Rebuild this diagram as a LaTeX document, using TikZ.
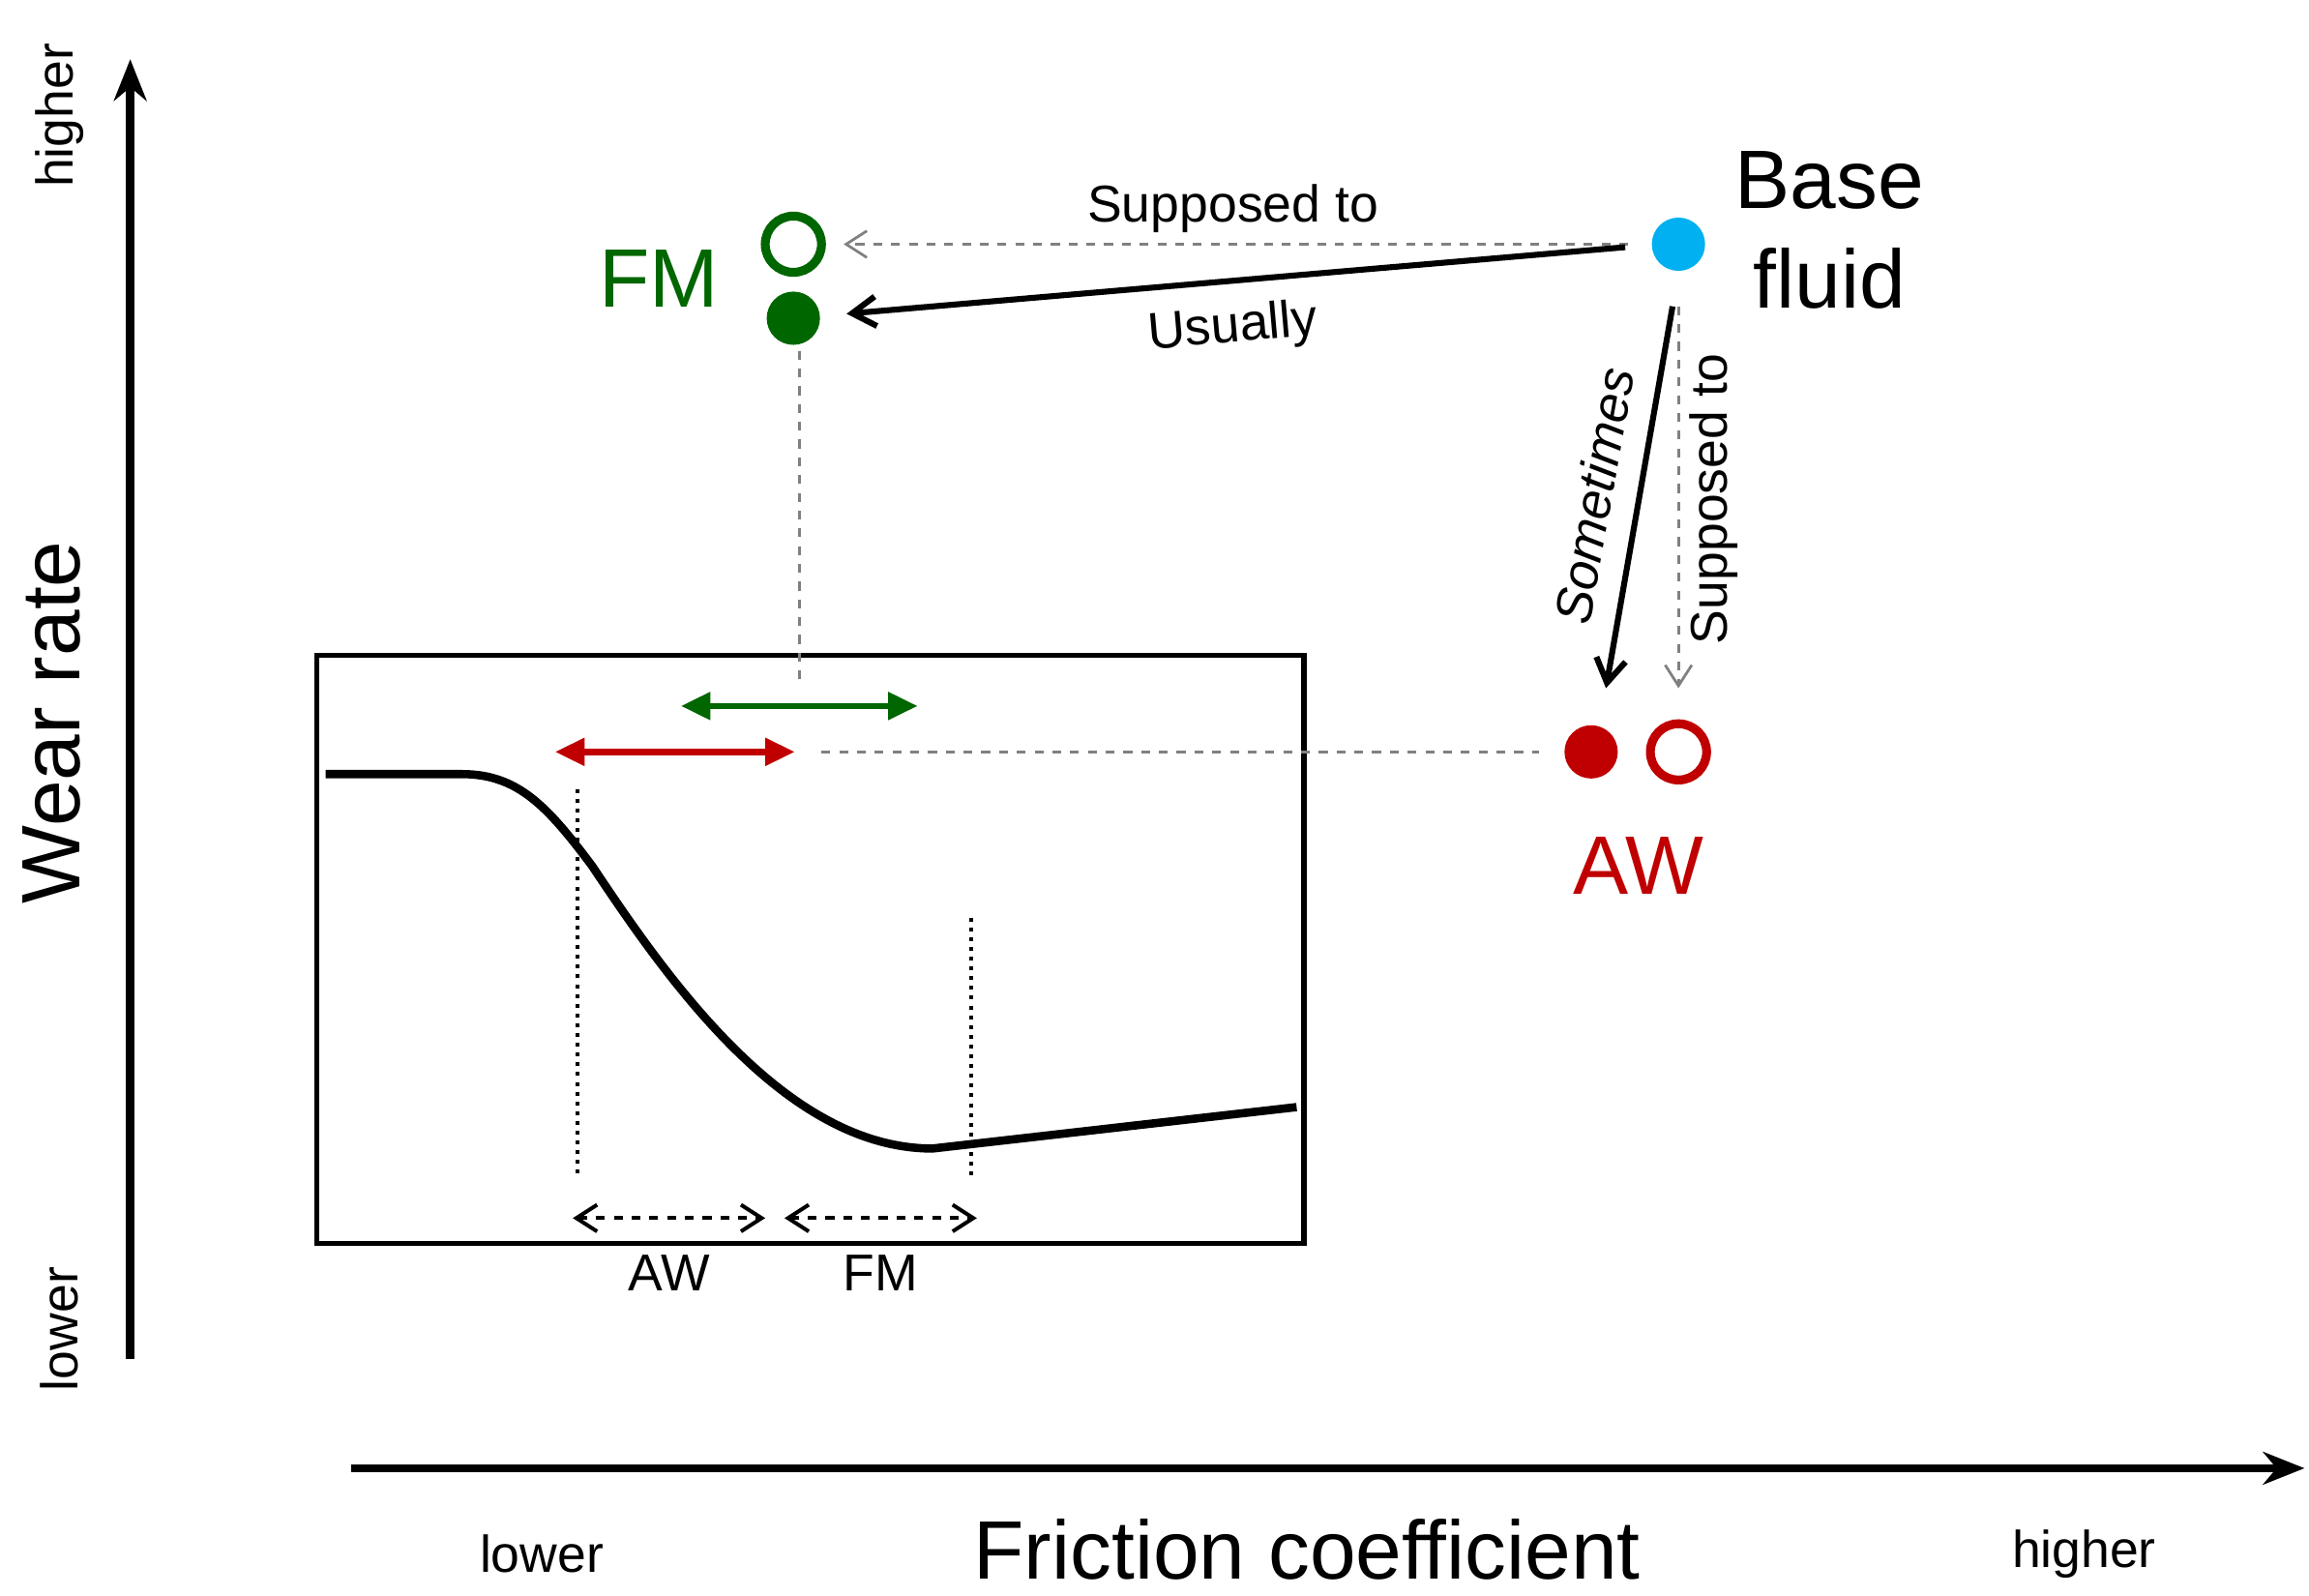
\documentclass[tikz,border=0pt]{standalone}
\usepackage{fontspec}
\setmainfont{Liberation Sans}
\usetikzlibrary{arrows.meta}
\definecolor{fmg}{HTML}{006600}
\definecolor{awr}{HTML}{C00000}
\definecolor{bfb}{HTML}{00B0F0}
\begin{document}
\begin{tikzpicture}[x=0.5pt,y=-0.5pt,
  ax/.style={line width=2.8pt,-{Stealth[length=14pt,width=11pt]}},
  big/.style={font=\fontsize{28}{31}\selectfont},
  med/.style={font=\fontsize{17.5}{20}\selectfont},
  gd/.style={gray,dashed,line width=0.9pt},
  ga/.style={gd,-{Straight Barb[length=7pt,width=9pt]}},
  ba/.style={black,line width=2pt,-{Straight Barb[length=8pt,width=10pt]}},
  col/.style={line width=2.2pt,{Triangle[length=10pt,width=9pt]}-{Triangle[length=10pt,width=9pt]}}]
\useasboundingbox (0,0) rectangle (1560,1078);
% axes
\coordinate (y0) at (88,918); \coordinate (y1) at (88,40);
\coordinate (x0) at (237,992); \coordinate (x1) at (1557,992);
\draw[ax] (y0) -- (y1);
\draw[ax] (x0) -- (x1);
\node[med,rotate=90] (yh) at (40,78) {higher};
\node[med,rotate=90] (yl) at (40,898) {lower};
\node[big,rotate=90] (yw) at (35,488) {Wear rate};
\node[med] (xl) at (366,1050) {lower};
\node[big] (xf) at (883,1047) {Friction coefficient};
\node[med] (xh) at (1408,1050) {higher};
% box
\node[draw,line width=1.7pt,minimum width=333.5pt,minimum height=198.5pt,inner sep=0] (box) at (547.5,641.5) {};
\draw[line width=2.8pt] (220,523) -- (312,523) .. controls (350,523) and (370,545) .. (400,585)
  .. controls (450,660) and (530,776) .. (630,776) -- (876,748);
\draw[dotted,line width=1.3pt] (390,533) -- (390,795);
\draw[dotted,line width=1.3pt] (656,620) -- (656,795);
\coordinate (a1) at (387,823); \coordinate (a2) at (517,823);
\coordinate (f1) at (530,823); \coordinate (f2) at (660,823);
\draw[dashed,line width=1.3pt,{Straight Barb[length=7pt,width=9pt]}-{Straight Barb[length=7pt,width=9pt]}] (a1) -- (a2);
\draw[dashed,line width=1.3pt,{Straight Barb[length=7pt,width=9pt]}-{Straight Barb[length=7pt,width=9pt]}] (f1) -- (f2);
\node[med] (law) at (452,860) {AW};
\node[med] (lfm) at (595,860) {FM};
\coordinate (r1) at (375,508); \coordinate (r2) at (537,508);
\coordinate (g1) at (460,477); \coordinate (g2) at (620,477);
\draw[col,awr] (r1) -- (r2);
\draw[col,fmg] (g1) -- (g2);
% FM
\node[circle,draw=fmg,line width=3pt,minimum size=19pt,inner sep=0] (fmo) at (536,165) {};
\node[circle,fill=fmg,minimum size=18pt,inner sep=0] (fmf) at (536,215) {};
\node[big,text=fmg] (fmt) at (445,188) {FM};
% base fluid
\node[circle,fill=bfb,minimum size=18pt,inner sep=0] (bf) at (1134,165) {};
\node[big] (bt1) at (1236,122) {Base};
\node[big] (bt2) at (1236,188) {fluid};
% AW
\node[circle,fill=awr,minimum size=18pt,inner sep=0] (awf) at (1075,508) {};
\node[circle,draw=awr,line width=3pt,minimum size=19pt,inner sep=0] (awo) at (1134,508) {};
\node[big,text=awr] (awt) at (1107,585) {AW};
% guide lines
\coordinate (v1) at (540,237); \coordinate (v2) at (540,462);
\draw[gd] (v1) -- (v2);
\coordinate (h1) at (555,508); \coordinate (h2) at (1040,508);
\draw[gd] (h1) -- (h2);
% arrows
\coordinate (s1) at (1100,165); \coordinate (s2) at (570,165);
\draw[ga] (s1) -- (s2);
\node[med] (ls) at (833,141) {Supposed to};
\coordinate (u1) at (1098,167); \coordinate (u2) at (572,212);
\draw[ba] (u1) -- (u2);
\node[med,rotate=5] (lu) at (833,222) {Usually};
\coordinate (m1) at (1130,207); \coordinate (m2) at (1085,465);
\draw[ba] (m1) -- (m2);
\node[med,font=\fontsize{17.5}{20}\selectfont\itshape,rotate=80,inner sep=1pt] (lm) at (1077,335) {Sometimes};
\coordinate (d1) at (1134,207); \coordinate (d2) at (1134,465);
\draw[ga] (d1) -- (d2);
\node[med,rotate=90,inner sep=1pt] (ld) at (1158,337) {Supposed to};
\end{tikzpicture}
\end{document}
